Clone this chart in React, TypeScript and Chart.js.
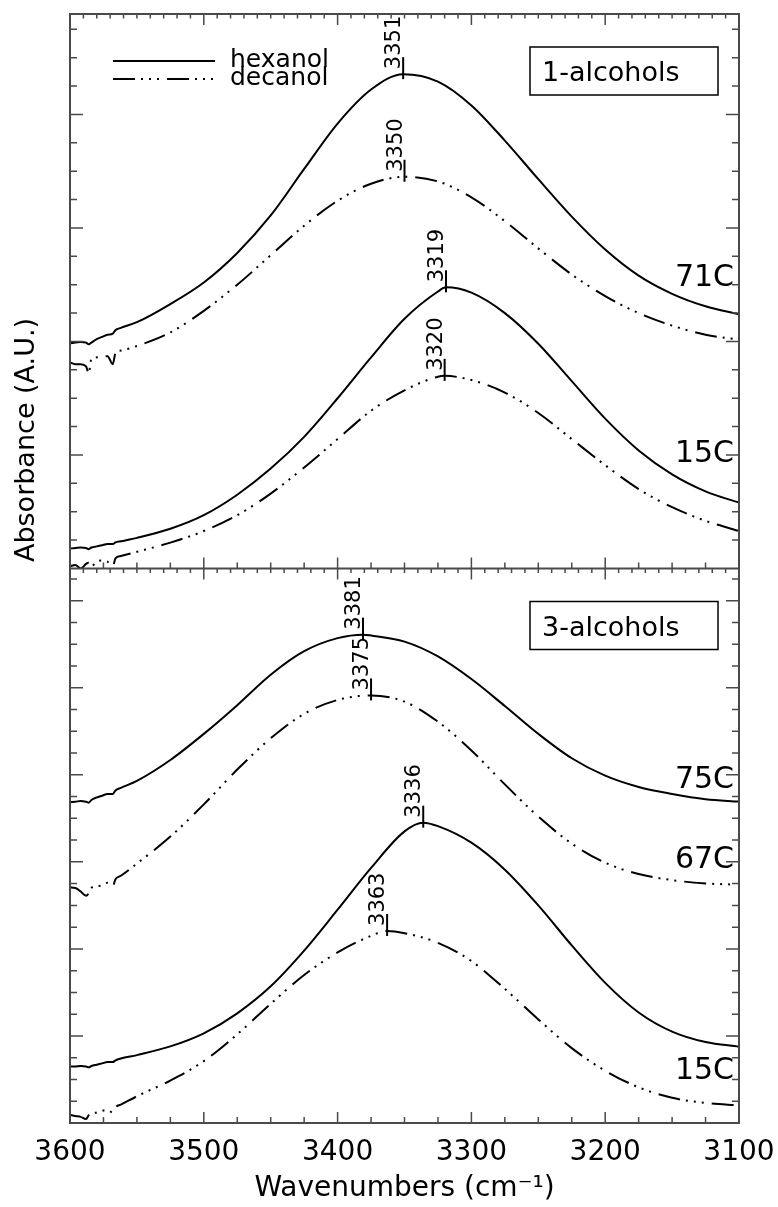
import React, { useEffect, useRef } from 'react';
import { Chart, registerables } from 'chart.js';

Chart.register(...registerables);

const FONT = '"DejaVu Sans", "Liberation Sans", sans-serif';
const INK = '#000000';
const AXIS = '#4a4a4a';
const DASH_3DOT = [22, 6, 2, 6, 2, 6, 2, 8];

// Wavenumber sampling (cm-1): a dense stretch at the noisy high end, then a coarse grid
const LEFT_WN = [3600, 3596, 3592, 3588, 3586, 3584, 3580, 3576, 3572, 3568, 3566, 3562];
const GRID_WN = [3550, 3525, 3500, 3475, 3450, 3425, 3400, 3375, 3350, 3325, 3300, 3275, 3250, 3225, 3200, 3175, 3150, 3125, 3100];
const X_TICKS = [3600, 3500, 3400, 3300, 3200, 3100];

// Upper panel: 1-alcohols (absorbance, arbitrary units)
const hex71Left = [1.985, 1.99, 1.995, 1.99, 1.975, 1.99, 2.02, 2.04, 2.06, 2.07, 2.1, 2.12];
const hex71 = [2.17, 2.33, 2.52, 2.78, 3.11, 3.52, 3.92, 4.22, 4.35, 4.29, 4.08, 3.77, 3.43, 3.1, 2.81, 2.58, 2.42, 2.31, 2.24];
const dec71Left = [1.815, 1.8, 1.8, 1.78, 1.72, 1.85, 1.86, 1.87, 1.87, 1.8, 1.9, 1.92];
const dec71 = [1.96, 2.08, 2.27, 2.5, 2.76, 3.02, 3.24, 3.39, 3.451, 3.41, 3.27, 3.06, 2.82, 2.59, 2.4, 2.25, 2.14, 2.06, 2.015];
const hex15Left = [0.176, 0.18, 0.185, 0.18, 0.17, 0.185, 0.195, 0.205, 0.215, 0.215, 0.23, 0.24];
const hex15 = [0.27, 0.35, 0.47, 0.65, 0.88, 1.16, 1.5, 1.86, 2.2, 2.44, 2.43, 2.25, 1.98, 1.65, 1.32, 1.04, 0.83, 0.68, 0.58];
const dec15Left = [0.02, 0.03, 0.0, 0.04, 0.05, 0.02, 0.06, 0.07, 0.06, 0.02, 0.09, 0.11];
const dec15 = [0.147, 0.228, 0.33, 0.47, 0.66, 0.89, 1.14, 1.39, 1.57, 1.69, 1.66, 1.55, 1.37, 1.14, 0.91, 0.7, 0.54, 0.42, 0.33];

// Lower panel: 3-alcohols
const hex75Left = [3.687, 3.69, 3.7, 3.69, 3.68, 3.71, 3.74, 3.76, 3.78, 3.78, 3.82, 3.85];
const hex75 = [3.93, 4.17, 4.47, 4.8, 5.15, 5.42, 5.57, 5.6, 5.53, 5.36, 5.1, 4.79, 4.47, 4.19, 3.99, 3.86, 3.78, 3.72, 3.692];
const dec67Left = [2.705, 2.7, 2.66, 2.61, 2.64, 2.7, 2.72, 2.73, 2.76, 2.72, 2.8, 2.84];
const dec67 = [2.98, 3.29, 3.66, 4.06, 4.42, 4.7, 4.86, 4.912, 4.84, 4.61, 4.28, 3.89, 3.52, 3.21, 2.99, 2.86, 2.79, 2.752, 2.738];
const hex15bLeft = [0.649, 0.65, 0.655, 0.65, 0.64, 0.655, 0.67, 0.685, 0.7, 0.7, 0.72, 0.74];
const hex15b = [0.78, 0.88, 1.03, 1.26, 1.57, 1.98, 2.45, 2.93, 3.35, 3.41, 3.22, 2.91, 2.5, 2.04, 1.61, 1.27, 1.05, 0.93, 0.877];
const dec15bLeft = [0.094, 0.08, 0.07, 0.046, 0.09, 0.11, 0.12, 0.14, 0.15, 0.12, 0.18, 0.21];
const dec15b = [0.307, 0.488, 0.711, 1.019, 1.37, 1.7, 1.96, 2.15, 2.18, 2.07, 1.86, 1.54, 1.19, 0.86, 0.6, 0.41, 0.29, 0.23, 0.203];

// Band maxima (position in cm-1 and absorbance), one per trace
const PEAK_WN = [3351, 3350, 3319, 3320, 3381, 3375, 3336, 3363];
const PEAK_ABS = [4.355, 3.451, 2.477, 1.697, 5.61, 4.912, 3.45, 2.206];

const PANEL_NAMES = ['1-alcohols', '3-alcohols'];
const SERIES_NAMES = ['hexanol', 'decanol'];
const TEMP_NAMES = ['71C', '15C', '75C', '67C', '15C'];

const TOP_MAX = 4.885;
const BOT_MAX = 6.37;

type Trace = { left: number[]; grid: number[]; peak: number; axis: 'yTop' | 'yBot'; dashed: boolean };

const TRACES: Trace[] = [
  { left: hex71Left, grid: hex71, peak: 0, axis: 'yTop', dashed: false },
  { left: dec71Left, grid: dec71, peak: 1, axis: 'yTop', dashed: true },
  { left: hex15Left, grid: hex15, peak: 2, axis: 'yTop', dashed: false },
  { left: dec15Left, grid: dec15, peak: 3, axis: 'yTop', dashed: true },
  { left: hex75Left, grid: hex75, peak: 4, axis: 'yBot', dashed: false },
  { left: dec67Left, grid: dec67, peak: 5, axis: 'yBot', dashed: true },
  { left: hex15bLeft, grid: hex15b, peak: 6, axis: 'yBot', dashed: false },
  { left: dec15bLeft, grid: dec15b, peak: 7, axis: 'yBot', dashed: true },
];

// Temperature tags at the right edge, baseline given in the panel's absorbance units
const TEMP_TAGS = [
  { text: TEMP_NAMES[0], axis: 'yTop', at: 2.493 },
  { text: TEMP_NAMES[1], axis: 'yTop', at: 0.934 },
  { text: TEMP_NAMES[2], axis: 'yBot', at: 3.847 },
  { text: TEMP_NAMES[3], axis: 'yBot', at: 2.929 },
  { text: TEMP_NAMES[4], axis: 'yBot', at: 0.505 },
];

function buildPoints(t: Trace) {
  const pts: { x: number; y: number }[] = [];
  LEFT_WN.forEach((w, i) => pts.push({ x: w, y: t.left[i] }));
  GRID_WN.forEach((w, i) => {
    if (Math.abs(w - PEAK_WN[t.peak]) > 4) pts.push({ x: w, y: t.grid[i] });
  });
  pts.push({ x: PEAK_WN[t.peak], y: PEAK_ABS[t.peak] });
  pts.sort((a, b) => b.x - a.x);
  return pts;
}

const decorPlugin = {
  id: 'spectraDecor',
  afterDraw(chart: any) {
    const { ctx, chartArea: ca, scales } = chart;
    const xs = scales.x;
    const yT = scales.yTop;
    const yB = scales.yBot;
    ctx.save();

    // frame and panel divider
    ctx.strokeStyle = AXIS;
    ctx.lineWidth = 2;
    ctx.setLineDash([]);
    ctx.strokeRect(ca.left, ca.top, ca.right - ca.left, ca.bottom - ca.top);
    ctx.beginPath();
    ctx.moveTo(ca.left, yT.bottom);
    ctx.lineTo(ca.right, yT.bottom);
    ctx.stroke();

    // tick marks, all pointing into the panels
    ctx.lineWidth = 1.5;
    const panels: [any, number][] = [[yT, TOP_MAX], [yB, BOT_MAX]];
    ctx.beginPath();
    for (const [s, max] of panels) {
      for (let k = 0; k * 0.25 <= max + 1e-9; k++) {
        const v = k * 0.25;
        const py = s.getPixelForValue(v);
        if (py <= s.top + 1 || py >= s.bottom - 1) continue;
        const len = k % 4 === 0 ? 13 : 7;
        ctx.moveTo(ca.left, py);
        ctx.lineTo(ca.left + len, py);
        ctx.moveTo(ca.right, py);
        ctx.lineTo(ca.right - len, py);
      }
      for (let w = 3100; w <= 3600; w += 25) {
        const px = xs.getPixelForValue(w);
        const len = w % 100 === 0 ? 11 : 6;
        ctx.moveTo(px, s.bottom);
        ctx.lineTo(px, s.bottom - len);
      }
      for (let w = 3100; w <= 3600; w += 10) {
        const px = xs.getPixelForValue(w);
        const len = w % 100 === 0 ? 11 : 4.5;
        ctx.moveTo(px, s.top);
        ctx.lineTo(px, s.top + len);
      }
    }
    ctx.stroke();

    // band-maximum markers with rotated position labels
    ctx.strokeStyle = INK;
    ctx.fillStyle = INK;
    ctx.lineWidth = 2;
    ctx.font = `21px ${FONT}`;
    TRACES.forEach((t) => {
      const s = scales[t.axis];
      const px = xs.getPixelForValue(PEAK_WN[t.peak]);
      const py = s.getPixelForValue(PEAK_ABS[t.peak]);
      ctx.beginPath();
      ctx.moveTo(px, py - 17);
      ctx.lineTo(px, py + 5);
      ctx.stroke();
      ctx.save();
      ctx.translate(px - 3, py - 5);
      ctx.rotate(-Math.PI / 2);
      ctx.textAlign = 'left';
      ctx.textBaseline = 'alphabetic';
      ctx.fillText(String(PEAK_WN[t.peak]), 0, 0);
      ctx.restore();
    });

    // legend
    ctx.font = `25px ${FONT}`;
    ctx.textAlign = 'left';
    ctx.textBaseline = 'alphabetic';
    SERIES_NAMES.forEach((name, i) => {
      const ly = yT.top + 47 + i * 18;
      ctx.setLineDash(i === 1 ? DASH_3DOT : []);
      ctx.lineWidth = 2;
      ctx.beginPath();
      ctx.moveTo(ca.left + 43, ly);
      ctx.lineTo(ca.left + 145, ly);
      ctx.stroke();
      ctx.setLineDash([]);
      ctx.fillText(name, ca.left + 160, ly + 6);
    });

    // boxed panel names
    ctx.font = `27px ${FONT}`;
    [yT, yB].forEach((s, i) => {
      const bx = 530;
      const bw = 188;
      const by = s.top + 33;
      const bh = 48;
      ctx.lineWidth = 1.5;
      ctx.strokeStyle = INK;
      ctx.strokeRect(bx, by, bw, bh);
      ctx.fillText(PANEL_NAMES[i], bx + 12, by + 34);
    });

    // temperature tags
    ctx.font = `30px ${FONT}`;
    ctx.textAlign = 'right';
    TEMP_TAGS.forEach((tag) => {
      const s = scales[tag.axis];
      ctx.fillText(tag.text, ca.right - 5, s.getPixelForValue(tag.at));
    });

    // y-axis title
    ctx.font = `27px ${FONT}`;
    ctx.textAlign = 'center';
    ctx.textBaseline = 'middle';
    ctx.save();
    ctx.translate(27, 440);
    ctx.rotate(-Math.PI / 2);
    ctx.fillText('Absorbance (A.U.)', 0, 0);
    ctx.restore();

    ctx.restore();
  },
};

const hiddenY = (max: number, weight: number) => ({
  type: 'linear' as const,
  position: 'left' as const,
  stack: 'absorbance',
  stackWeight: 1,
  weight,
  min: 0,
  max,
  ticks: { display: false },
  grid: { display: false, drawTicks: false },
  border: { display: false },
  title: { display: false },
});

export default function App() {
  const canvasRef = useRef<HTMLCanvasElement | null>(null);

  useEffect(() => {
    const canvas = canvasRef.current;
    if (!canvas) return;
    const datasets = TRACES.map((t, i) => ({
      label: `${SERIES_NAMES[i % 2]} ${i}`,
      data: buildPoints(t),
      xAxisID: 'x',
      yAxisID: t.axis,
      borderColor: INK,
      borderWidth: 2,
      borderDash: t.dashed ? DASH_3DOT : [],
      pointRadius: 0,
      fill: false,
      cubicInterpolationMode: 'monotone' as const,
    }));

    const chart = new Chart(canvas, {
      type: 'line',
      data: { datasets },
      options: {
        animation: false,
        responsive: false,
        maintainAspectRatio: false,
        devicePixelRatio: 1,
        events: [],
        layout: { padding: { left: 70, right: 39, top: 14, bottom: 12.8 } },
        plugins: { legend: { display: false }, tooltip: { enabled: false } },
        scales: {
          x: {
            type: 'linear',
            position: 'bottom',
            min: 3100,
            max: 3600,
            reverse: true,
            grid: { display: false, drawTicks: false },
            border: { display: false },
            afterBuildTicks: (s: any) => {
              s.ticks = X_TICKS.map((v) => ({ value: v }));
            },
            afterFit: (s: any) => {
              s.paddingLeft = 0;
              s.paddingRight = 0;
            },
            ticks: {
              font: { family: FONT, size: 28, lineHeight: 1 },
              color: INK,
              padding: 16,
              maxRotation: 0,
              autoSkip: false,
              callback: (v: any) => String(v),
            },
            title: {
              display: true,
              text: 'Wavenumbers (cm⁻¹)',
              font: { family: FONT, size: 28, lineHeight: 0.4 },
              color: INK,
              padding: 0,
            },
          },
          yBot: hiddenY(BOT_MAX, 0),
          yTop: hiddenY(TOP_MAX, 1),
        },
      },
      plugins: [decorPlugin],
    } as any);

    return () => chart.destroy();
  }, []);

  return (
    <div style={{ position: 'absolute', left: 0, top: 0, width: 778, height: 1207, background: '#fff', overflow: 'hidden' }}>
      <canvas ref={canvasRef} width={778} height={1207} style={{ width: 778, height: 1207, display: 'block' }} />
    </div>
  );
}
